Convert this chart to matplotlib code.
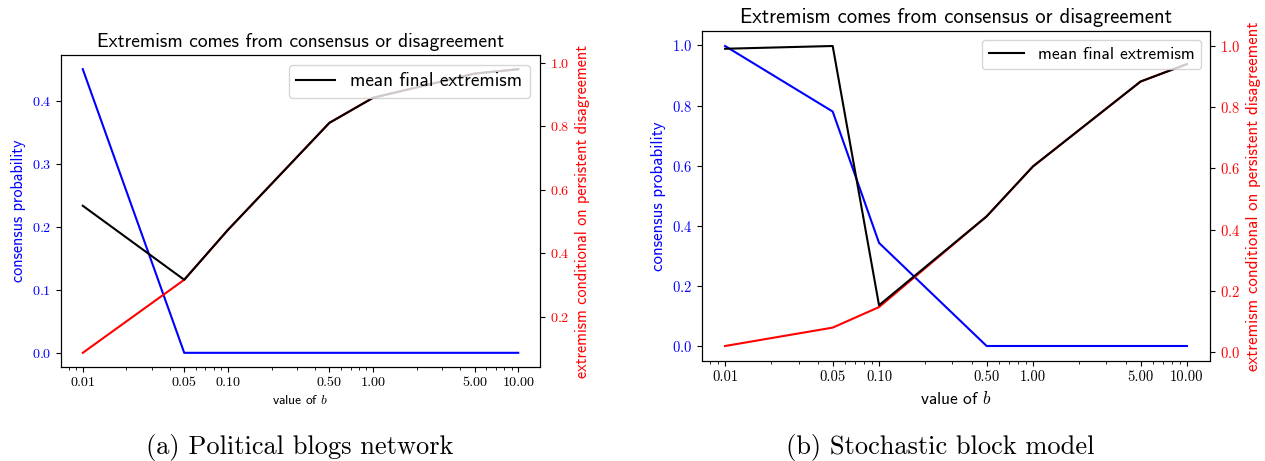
import matplotlib
matplotlib.use('Agg')
import matplotlib.pyplot as plt

plt.rcParams['mathtext.fontset'] = 'cm'
plt.rcParams['axes.formatter.use_mathtext'] = True

# values of b (log x axis)
b_vals = [0.01, 0.05, 0.1, 0.5, 1.0, 5.0, 10.0]
b_ticks = [0.01, 0.05, 0.1, 0.5, 1.0, 5.0, 10.0]
b_labels = ['0.01', '0.05', '0.10', '0.50', '1.00', '5.00', '10.00']

# (a) political blogs network
blogs_consensus = [0.45, 0.0, 0.0, 0.0, 0.0, 0.0, 0.0]
blogs_extrem_dis = [0.087, 0.317, 0.474, 0.811, 0.89, 0.966, 0.98]
blogs_mean_extrem = [0.55, 0.317, 0.474, 0.811, 0.89, 0.966, 0.98]

# (b) stochastic block model
sbm_consensus = [0.998, 0.78, 0.343, 0.0, 0.0, 0.0, 0.0]
sbm_extrem_dis = [0.02, 0.08, 0.147, 0.443, 0.606, 0.883, 0.94]
sbm_mean_extrem = [0.99, 0.999, 0.153, 0.443, 0.606, 0.883, 0.94]

title = 'Extremism comes from consensus or disagreement'
captions = ['(a) Political blogs network', '(b) Stochastic block model']

W, H = 1265, 461
fig = plt.figure(figsize=(W / 100, H / 100), dpi=100)


def panel(rect, cons, extr, mean, fs_title, fs_ylab, fs_xlab, fs_tick, fs_leg):
	ax = fig.add_axes(rect)
	ax.plot(b_vals, cons, color='b', lw=1.5)
	ax.set_xscale('log')
	ax.set_xticks(b_ticks)
	ax.set_xticklabels(b_labels)
	ax.set_ylabel('consensus probability', color='b', family='cmss10', fontsize=fs_ylab)
	ax.set_xlabel('value of $b$', family='cmss10', fontsize=fs_xlab)
	ax.set_title(title, family='cmss10', fontsize=fs_title)
	ax.tick_params(axis='y', labelcolor='b')
	for t in ax.get_xticklabels() + ax.get_yticklabels():
		t.set_family('cmr10')
		t.set_fontsize(fs_tick)

	ax2 = ax.twinx()
	ax2.plot(b_vals, extr, color='r', lw=1.5)
	ax2.plot(b_vals, mean, color='k', lw=1.5, label='mean final extremism')
	ax2.set_ylabel('extremism conditional on persistent disagreement', color='r',
		family='cmss10', fontsize=fs_ylab)
	ax2.tick_params(axis='y', labelcolor='r')
	for t in ax2.get_yticklabels():
		t.set_family('cmr10')
		t.set_fontsize(fs_tick)
	ax2.legend(loc='upper right', prop={'family': 'cmss10', 'size': fs_leg})
	return ax, ax2


panel([61 / W, (H - 367) / H, 479 / W, 312 / H],
	blogs_consensus, blogs_extrem_dis, blogs_mean_extrem, 14, 11.7, 9.7, 10.2, 13.9)
panel([702 / W, (H - 361) / H, 508 / W, 330 / H],
	sbm_consensus, sbm_extrem_dis, sbm_mean_extrem, 14.8, 12.2, 12.5, 10.5, 12.6)

fig.text(300 / W, 1 - 447 / H, captions[0], ha='center', va='center', family='cmr10', fontsize=19)
fig.text(940 / W, 1 - 447 / H, captions[1], ha='center', va='center', family='cmr10', fontsize=19)

fig.savefig('out.png', dpi=100)
